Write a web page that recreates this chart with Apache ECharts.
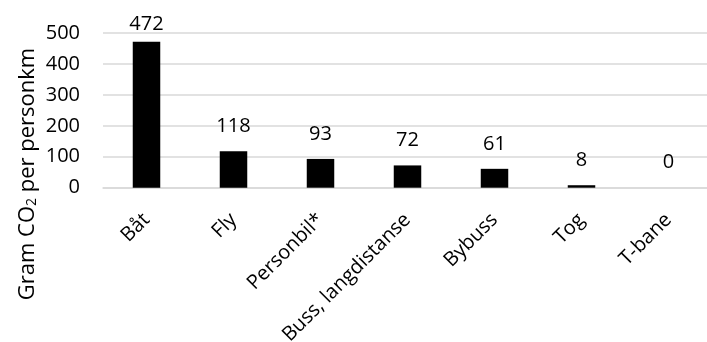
<!DOCTYPE html>
<html>
<head>
<meta charset="utf-8">
<script src="https://cdn.jsdelivr.net/npm/echarts@6/dist/echarts.min.js"></script>
<style>
  html, body { margin: 0; padding: 0; background: #fff; }
  #chart { width: 707px; height: 342px; }
</style>
</head>
<body>
<div id="chart"></div>
<script>
// Transport modes and grams of CO2 per passenger-km
const categories = ['Båt', 'Fly', 'Personbil*', 'Buss, langdistanse', 'Bybuss', 'Tog', 'T-bane'];
const values = [472, 118, 93, 72, 61, 8, 0];
const yTicks = [0, 100, 200, 300, 400, 500];

const FONT = '"Open Sans", sans-serif';
const chart = echarts.init(document.getElementById('chart'));

chart.setOption({
  animation: false,
  backgroundColor: '#ffffff',
  grid: {
    left: 103, top: 33, width: 609, height: 154.7,
    containLabel: false,
    outerBoundsMode: 'none'
  },
  xAxis: {
    type: 'category',
    data: categories,
    axisLine: { show: true, lineStyle: { color: '#d9d9d9', width: 1.5 } },
    axisTick: { show: false },
    axisLabel: {
      rotate: 45,
      interval: 0,
      margin: 29,
      color: '#000',
      fontFamily: FONT,
      fontSize: 20
    }
  },
  yAxis: {
    type: 'value',
    min: yTicks[0],
    max: yTicks[yTicks.length - 1],
    interval: yTicks[1] - yTicks[0],
    axisLine: { show: false },
    axisTick: { show: false },
    splitLine: { lineStyle: { color: '#d9d9d9', width: 1.5 } },
    axisLabel: {
      margin: 23,
      color: '#000',
      fontFamily: FONT,
      fontSize: 20
    }
  },
  graphic: [{
    type: 'text',
    x: 24,
    y: 174,
    rotation: Math.PI / 2,
    style: {
      text: '{m|Gram CO}{s|2}{m| per personkm}',
      align: 'center',
      verticalAlign: 'middle',
      fill: '#000',
      rich: {
        m: { fontFamily: FONT, fontSize: 22, lineHeight: 30, verticalAlign: 'bottom', fill: '#000' },
        s: { fontFamily: FONT, fontSize: 14, lineHeight: 20, verticalAlign: 'bottom', fill: '#000' }
      }
    }
  }],
  series: [{
    type: 'bar',
    barWidth: 27.5,
    data: values.map(v => ({
      value: v,
      // the tallest label is pulled closer so it stays inside the chart
      label: v > 450 ? { distance: 7 } : undefined
    })),
    itemStyle: { color: '#000' },
    label: {
      show: true,
      position: 'top',
      distance: 15,
      color: '#000',
      fontFamily: FONT,
      fontSize: 20
    }
  }]
});
</script>
</body>
</html>
